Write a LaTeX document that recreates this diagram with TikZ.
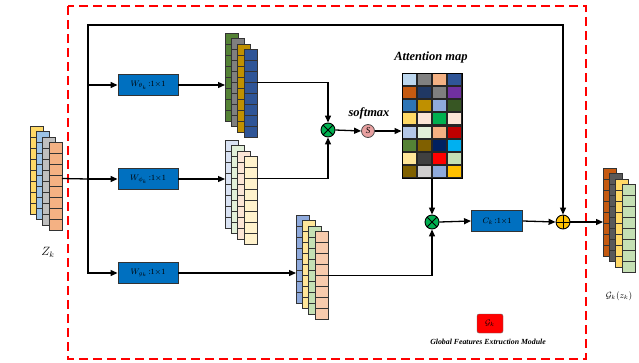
\documentclass[tikz,border=0pt]{standalone}
\usepackage{fontspec}
\setmainfont{Liberation Serif}
\usetikzlibrary{arrows.meta,calc}
\definecolor{wblue}{HTML}{0070C0}
\definecolor{mulgreen}{HTML}{00B050}
\definecolor{addgold}{HTML}{FFC000}
\definecolor{spink}{HTML}{E8A0A0}
% stacks
\definecolor{za}{HTML}{FFD966}\definecolor{zb}{HTML}{9DC3E6}\definecolor{zc}{HTML}{BFBFBF}\definecolor{zd}{HTML}{F4B183}
\definecolor{ta}{HTML}{548235}\definecolor{tb}{HTML}{7F7F7F}\definecolor{tc}{HTML}{BF9000}\definecolor{td}{HTML}{2F5597}
\definecolor{ma}{HTML}{DAE3F3}\definecolor{mb}{HTML}{E2F0D9}\definecolor{mc}{HTML}{FBE5D6}\definecolor{md}{HTML}{FFF2CC}
\definecolor{ba}{HTML}{8FAADC}\definecolor{bb}{HTML}{FFE699}\definecolor{bc}{HTML}{C5E0B4}\definecolor{bd}{HTML}{F8CBAD}
\definecolor{oa}{HTML}{C55A11}\definecolor{ob}{HTML}{595959}\definecolor{oc}{HTML}{FFD966}\definecolor{od}{HTML}{C5E0B4}
% attention map
\definecolor{a11}{HTML}{BDD7EE}\definecolor{a12}{HTML}{808080}\definecolor{a13}{HTML}{F4B183}\definecolor{a14}{HTML}{2F5597}
\definecolor{a21}{HTML}{C55A11}\definecolor{a22}{HTML}{203864}\definecolor{a23}{HTML}{7F7F7F}\definecolor{a24}{HTML}{7030A0}
\definecolor{a31}{HTML}{2E75B6}\definecolor{a32}{HTML}{BF9000}\definecolor{a33}{HTML}{8FAADC}\definecolor{a34}{HTML}{375623}
\definecolor{a41}{HTML}{FFD966}\definecolor{a42}{HTML}{FBE5D6}\definecolor{a43}{HTML}{00B050}\definecolor{a44}{HTML}{FBE5D6}
\definecolor{a51}{HTML}{B4C7E7}\definecolor{a52}{HTML}{E2F0D9}\definecolor{a53}{HTML}{F4B183}\definecolor{a54}{HTML}{C00000}
\definecolor{a61}{HTML}{548235}\definecolor{a62}{HTML}{806000}\definecolor{a63}{HTML}{002060}\definecolor{a64}{HTML}{00B0F0}
\definecolor{a71}{HTML}{FFE699}\definecolor{a72}{HTML}{404040}\definecolor{a73}{HTML}{FF0000}\definecolor{a74}{HTML}{C5E0B4}
\definecolor{a81}{HTML}{7F6000}\definecolor{a82}{HTML}{D0CECE}\definecolor{a83}{HTML}{8FAADC}\definecolor{a84}{HTML}{FFC000}
\newcommand{\fmapstack}[7]{%
  \foreach \cc [count=\ii from 0] in {#4,#5,#6,#7}{%
    \node[layer,fill=\cc,anchor=north west] (#1-\ii) at ({#2+6.3*\ii},{#3+5.5*\ii}) {};}}
\begin{document}
\begin{tikzpicture}[x=1pt,y=-1pt,
  layer/.style={draw=black!80, line width=0.8pt, minimum width=13pt, minimum height=88pt,
    inner sep=0pt, outer sep=0pt,
    path picture={\foreach \k in {1,...,7}{\draw[black!80,line width=0.8pt]
      ($(path picture bounding box.north west)!\k/8!(path picture bounding box.south west)$) --
      ($(path picture bounding box.north east)!\k/8!(path picture bounding box.south east)$);}}},
  wbox/.style={draw=black!80, line width=0.9pt, fill=wblue, minimum width=60pt, minimum height=21pt,
    inner sep=0pt, font=\fontsize{8}{9}\selectfont},
  mulop/.style={circle, draw=black, line width=0.9pt, fill=mulgreen, minimum size=14pt, inner sep=0pt,
    path picture={\draw[line width=1pt] (path picture bounding box.north west) -- (path picture bounding box.south east)
      (path picture bounding box.north east) -- (path picture bounding box.south west);}},
  addop/.style={circle, draw=black, line width=0.9pt, fill=addgold, minimum size=14pt, inner sep=0pt,
    path picture={\draw[line width=1pt] (path picture bounding box.north) -- (path picture bounding box.south)
      (path picture bounding box.east) -- (path picture bounding box.west);}},
  wire/.style={line width=1.3pt, black},
  arr/.style={wire, -{Triangle[length=7pt,width=6pt]}},
  lbl/.style={font=\bfseries\itshape\fontsize{12.5}{13}\selectfont, inner sep=0pt}
]
\useasboundingbox (0,0) rectangle (639,362);
% frame
\draw[red, line width=1.2pt, dash pattern=on 9pt off 5pt] (68,6) rectangle (586,359);
% stacks
\fmapstack{z}{30}{126}{za}{zb}{zc}{zd}
\fmapstack{t}{225}{33}{ta}{tb}{tc}{td}
\fmapstack{m}{225}{140}{ma}{mb}{mc}{md}
\fmapstack{b}{296}{215}{ba}{bb}{bc}{bd}
\fmapstack{o}{603}{168}{oa}{ob}{oc}{od}
\node[font=\fontsize{12}{13}\selectfont] (zl) at (48,252) {$Z_k$};
\node[font=\fontsize{9}{10}\selectfont] (ol) at (619,296) {$\mathcal{G}_k(z_k)$};
% W boxes
\node[wbox] (w1) at (148,85) {$W_{\theta_k}$\,:1$\times$1};
\node[wbox] (w2) at (148,179) {$W_{\phi_k}$\,:1$\times$1};
\node[wbox] (w3) at (148,273) {$W_{g_k}$\,:1$\times$1};
% operators
\node[mulop] (mul1) at (328,130) {};
\node[circle, draw=black!70, line width=0.8pt, fill=spink, minimum size=13pt, inner sep=0pt,
  font=\itshape\fontsize{9}{9}\selectfont] (sm) at (368,131) {S};
\node[lbl] (smlbl) at (369,113) {softmax};
\node[mulop] (mul2) at (432,222) {};
\node[wbox, minimum width=51pt] (cbox) at (497,221) {$C_k$\,:1$\times$1};
\node[addop] (add) at (563,222) {};
% attention map
\node[draw=black, line width=1pt, fill=black!85, minimum width=60pt, minimum height=105pt, inner sep=0pt] (att) at (432,125.5) {};
\node[lbl] (attlbl) at (431,57) {Attention map};
\foreach \row [count=\r from 0] in {{a11,a12,a13,a14},{a21,a22,a23,a24},{a31,a32,a33,a34},{a41,a42,a43,a44},
  {a51,a52,a53,a54},{a61,a62,a63,a64},{a71,a72,a73,a74},{a81,a82,a83,a84}}{
  \foreach \c [count=\q from 0] in \row {
    \fill[\c] ({402+15*\q+1},{73+13.125*\r+1}) rectangle ({402+15*\q+14},{73+13.125*\r+12.1});
  }}
% legend
\node[draw=black!60, fill=red, rounded corners=2pt, minimum width=26pt, minimum height=19pt, inner sep=0pt,
  font=\fontsize{8}{9}\selectfont] (leg) at (490,323.5) {$\mathcal{G}_k$};
\node[font=\bfseries\itshape\fontsize{7.8}{8}\selectfont, inner sep=0pt] (legtxt) at (488,342) {Global Features Extruction Module};
% wiring
\coordinate (j) at (88,179);
\coordinate (jt) at (88,25);
\draw[wire] ([yshift=8pt]z-3.east) -- (j);
\draw[arr] (j) -- (w2.west);
\draw[arr] (j) |- (w1.west);
\draw[arr] (j) |- (w3.west);
\draw[arr] (j) -- (jt) -| (add.north);
\draw[arr] (w1.east) -- (w1.east -| t-0.west);
\draw[arr] (w2.east) -- (w2.east -| m-0.west);
\draw[arr] (w3.east) -- (w3.east -| b-0.west);
\draw[arr] ([yshift=11pt]t-3.east) -| (mul1.north);
\draw[arr] ([yshift=22pt]m-3.east) -| (mul1.south);
\draw[arr] (b-3.east) -| (mul2.south);
\draw[arr] (mul1.east) -- (sm.west);
\draw[arr] (sm.east) -- (sm.east -| att.west);
\draw[arr] (att.south -| mul2.north) -- (mul2.north);
\draw[arr] (mul2.east) -- (cbox.west);
\draw[arr] (cbox.east) -- (add.west);
\draw[arr] (add.east) -- (add.east -| o-0.west);
\end{tikzpicture}
\end{document}
